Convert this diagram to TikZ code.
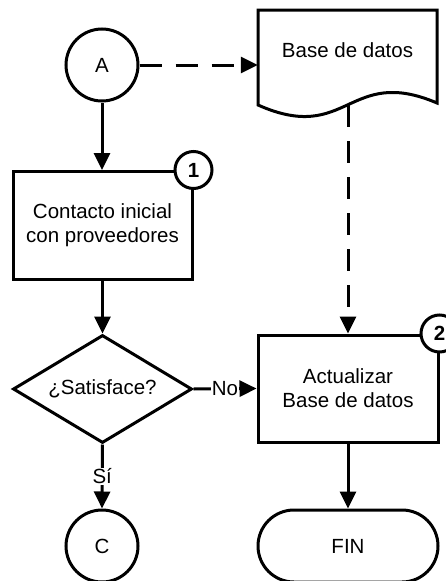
\documentclass[tikz,border=0pt]{standalone}
\usepackage{fontspec}
\setmainfont{Liberation Sans}
\usetikzlibrary{shapes.geometric,arrows.meta,calc}
\begin{document}
\begin{tikzpicture}[x=1pt,y=-1pt,
  every node/.style={font=\fontsize{20.5}{24}\selectfont},
  line/.style={line width=3pt},
  flow/.style={line, -{Triangle[length=17pt,width=16pt]}},
  dashflow/.style={flow, dash pattern=on 22pt off 14pt},
  conn/.style={circle, draw, line width=3pt, minimum size=72pt, inner sep=0pt},
  procbox/.style={rectangle, draw, line width=3pt, minimum width=179pt, minimum height=108pt, align=center, inner sep=0pt},
  badge/.style={circle, draw, fill=white, line width=3pt, minimum size=37pt, inner sep=0pt, font=\fontsize{20.5}{24}\selectfont\bfseries},
  decision/.style={diamond, draw, line width=3pt, aspect=1.66, minimum width=179pt, minimum height=108pt, inner sep=0pt},
  terminal/.style={rectangle, draw, line width=3pt, rounded corners=36pt, minimum width=180pt, minimum height=72pt},
  edgelabel/.style={fill=white, inner sep=1pt}]
\useasboundingbox (0,0) rectangle (446,581);

% connectors and stored data
\node[conn] (A) at (102,65) {A};
\node[minimum width=179pt, minimum height=95pt, inner sep=0pt] (db) at (347.5,57.5) {};
\draw[line, line join=miter] (258,10) -- (258,105)
  .. controls (348,145) and (348,65) .. (437,103) -- (437,10) -- cycle;
\node (dbtext) at (347.5,50) {Base de datos};
\coordinate (dbout) at (348,105);

% process steps
\node[procbox] (r1) at (102.5,225.5) {Contacto inicial\\con proveedores};
\node[badge] (b1) at (r1.north east) {1};

\node[decision] (d) at (102.5,389) {¿Satisface?};

\node[procbox, minimum width=180pt, minimum height=107pt] (r2) at (348,388.5) {Actualizar\\Base de datos};
\node[badge] (b2) at (r2.north east) {2};

\node[conn] (C) at (102,546) {C};
\node[terminal] (fin) at (348,546) {FIN};

% flow lines
\draw[dashflow] (A.east) -- (A.east -| db.west);
\draw[dashflow] (dbout) -- (r2.north -| dbout);
\draw[flow] (A.south) -- (r1.north -| A.south);
\draw[flow] (r1.south) -- (d.north);
\draw[flow] (d.east) -- node[edgelabel] {No} (r2.west);
\draw[flow] (d.south) -- node[edgelabel] {Sí} (C.north);
\draw[flow] (r2.south) -- (fin.north);
\end{tikzpicture}
\end{document}
